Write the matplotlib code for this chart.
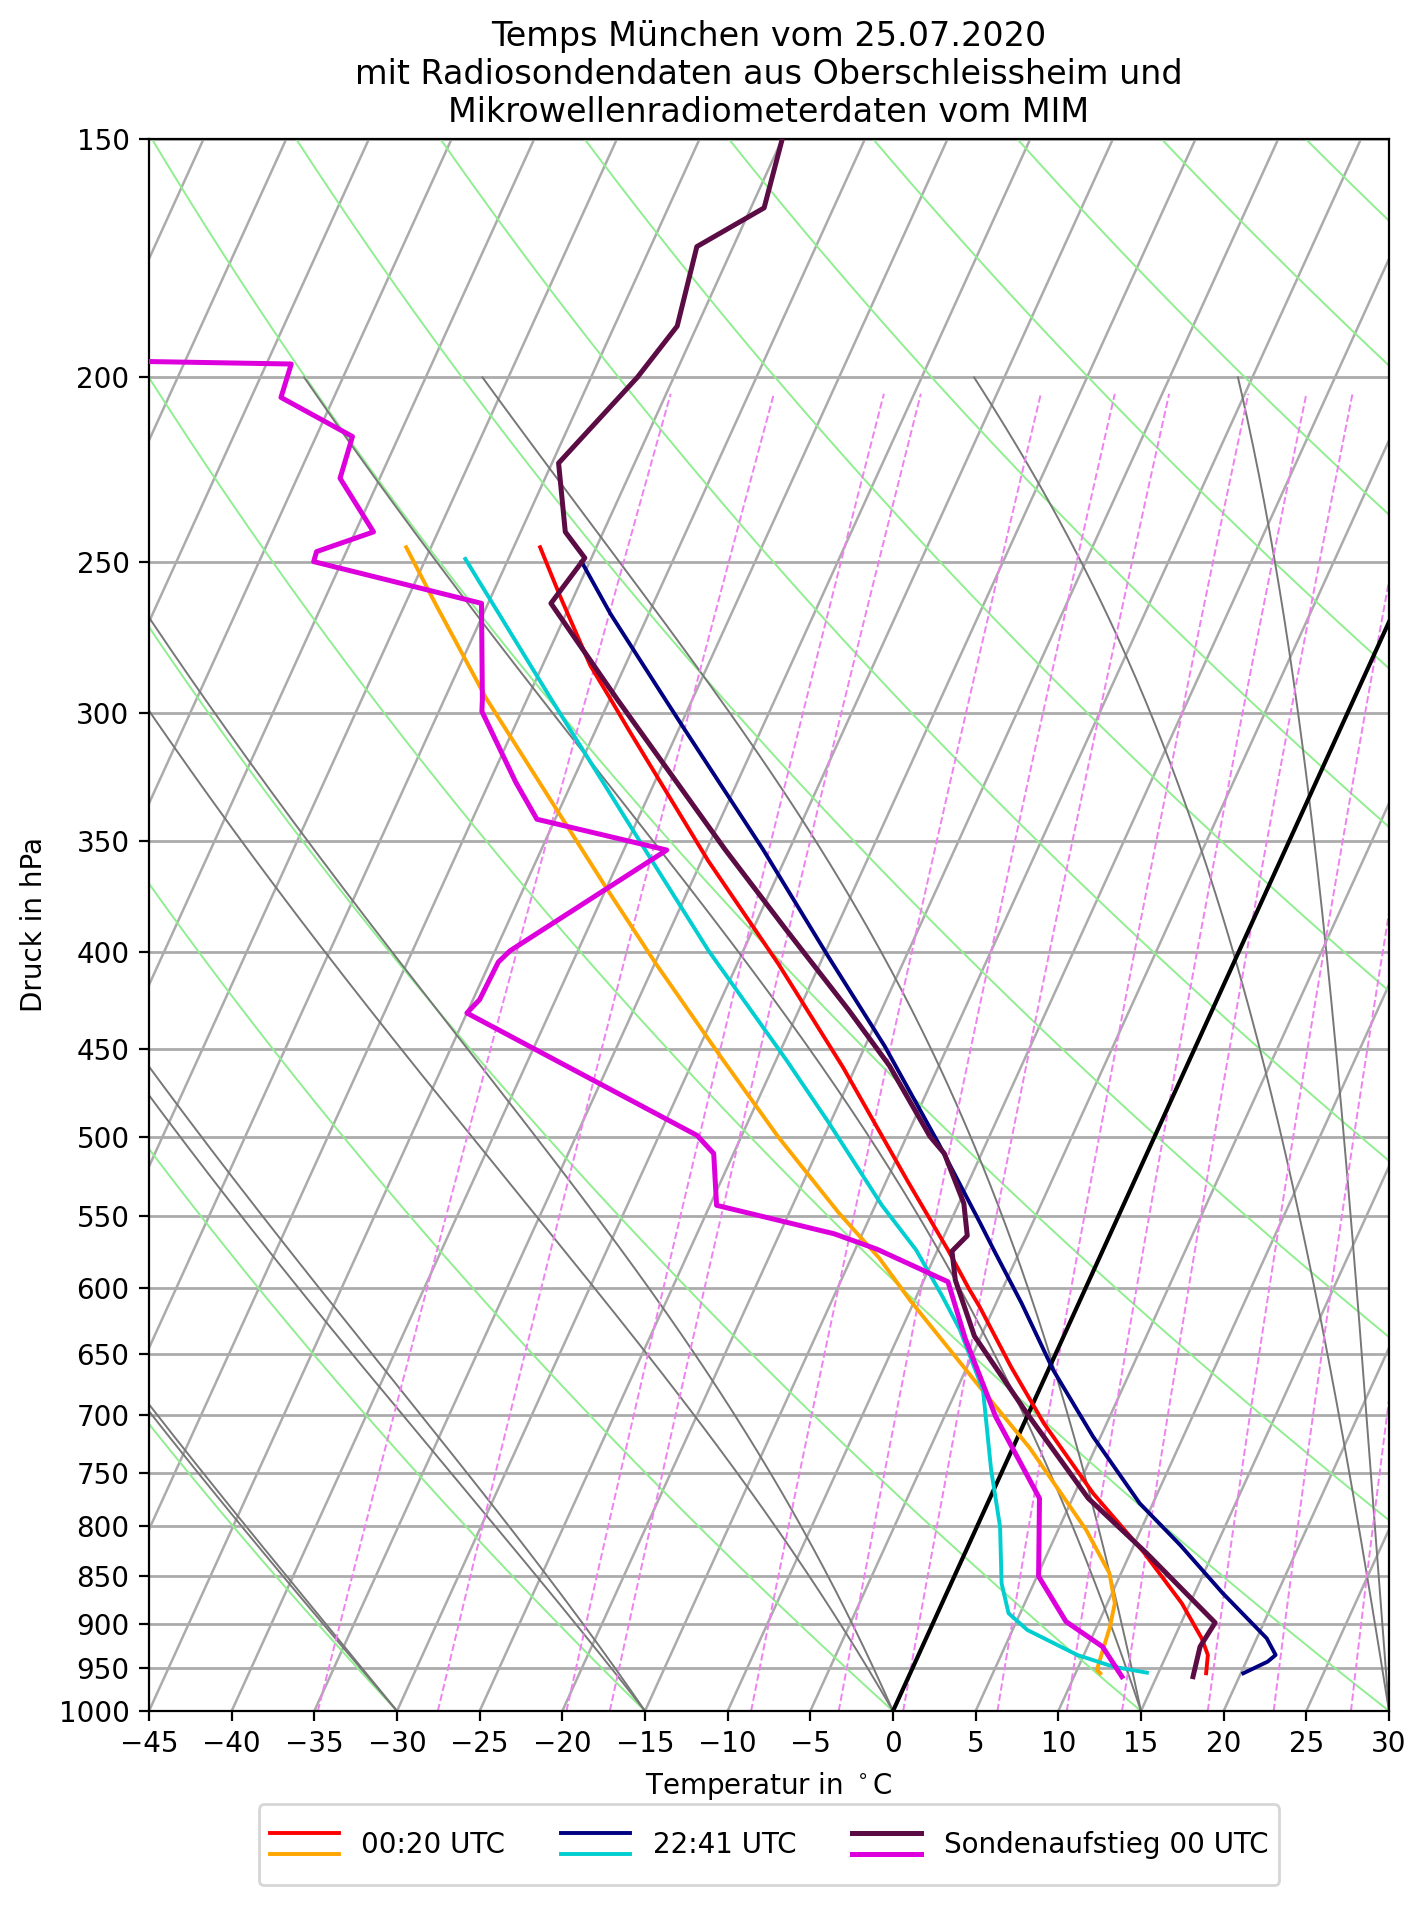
import numpy as np
import matplotlib
matplotlib.use('Agg')
import matplotlib.pyplot as plt
from matplotlib.transforms import Affine2D
from matplotlib.legend_handler import HandlerBase
from matplotlib.lines import Line2D

# Mikrowellenradiometer 00:20 UTC
p_t_0020 = [245.5, 260.7, 283.2, 295.2, 306.1, 358.4, 406.0, 459.9, 528.2, 573.0, 601.2, 613.9,
            660.0, 706.7, 768.9, 825.1, 878.1, 916.0, 934.6, 955.5]
t_0020 = [-53.4, -50.8, -47.1, -44.9, -43.0, -34.6, -27.5, -20.75, -13.65, -9.4, -7.0, -5.9,
          -2.35, 1.2, 6.1, 10.75, 14.5, 16.67, 17.5, 17.9]
p_td_0020 = [245.5, 262.7, 294.6, 370.1, 406.0, 453.6, 499.8, 548.2, 579.0, 609.0, 676.1, 728.3,
             803.8, 846.9, 878.1, 903.3, 927.1, 951.7, 955.5]
td_0020 = [-61.5, -58.2, -52.5, -40.05, -34.9, -28.5, -22.8, -17.0, -13.3, -10.3, -3.7, 1.05,
           6.7, 9.3, 10.45, 10.8, 11.0, 11.2, 11.5]

# Mikrowellenradiometer 22:41 UTC
p_t_2241 = [249.8, 266.1, 295.2, 305.0, 353.5, 402.3, 448.4, 504.4, 554.6, 573.3, 611.4, 662.7,
            718.2, 778.3, 818.5, 867.5, 916.0, 934.6, 942.2, 955.5]
t_2241 = [-50.5, -47.3, -41.6, -39.8, -31.6, -24.7, -18.8, -12.85, -8.2, -6.6, -3.45, 0.3,
          4.55, 9.2, 12.8, 16.7, 20.6, 21.6, 21.3, 20.15]
p_td_2241 = [249.0, 294.6, 355.1, 399.5, 455.7, 490.7, 543.2, 573.3, 606.7, 631.3, 678.8, 747.7,
             800.6, 857.2, 888.8, 906.9, 934.6, 947.9, 954.8]
td_2241 = [-57.6, -48.6, -38.5, -32.1, -24.4, -20.2, -14.6, -11.3, -8.4, -6.45, -3.4, -0.7,
           1.4, 3.05, 4.3, 5.9, 9.6, 12.1, 14.3]

# Radiosonde Oberschleissheim 00 UTC
p_sonde = [150.0, 163.0, 170.8, 188.0, 200.0, 221.8, 241.0, 248.7, 262.7, 295.2, 353.5, 389.4,
           429.1, 458.9, 499.8, 510.3, 541.9, 563.5, 574.1, 594.5, 636.1, 698.2, 773.6, 826.7,
           898.9, 925.3, 959.4]
t_sonde = [-50.0, -49.2, -52.2, -51.2, -52.2, -54.6, -52.3, -50.4, -51.2, -44.5, -33.9, -28.0,
           -22.0, -18.0, -13.6, -12.25, -9.7, -8.6, -9.1, -8.1, -5.4, -0.1, 5.95, 11.0,
           17.05, 16.8, 17.2]
p_td_sonde = [195.6, 196.8, 204.9, 214.8, 225.9, 241.0, 246.8, 249.8, 262.7, 295.0, 299.3, 326.0,
              340.9, 353.8, 399.5, 405.0, 423.8, 430.7, 499.3, 510.3, 543.2, 562.2, 572.7, 595.7,
              637.8, 701.0, 773.6, 850.1, 897.7, 925.3, 959.4]
td_sonde = [-91.3, -73.5, -73.2, -67.8, -67.4, -63.9, -66.8, -66.7, -55.4, -52.7, -52.4, -48.4,
            -46.1, -37.4, -44.1, -44.5, -44.6, -45.0, -27.7, -26.2, -24.6, -16.7, -13.7, -8.5,
            -5.9, -1.9, 3.0, 5.1, 8.0, 10.9, 12.9]

labels = ['00:20 UTC', '22:41 UTC', 'Sondenaufstieg 00 UTC']
p_ticks = list(range(150, 1001, 50))
t_ticks = list(range(-45, 31, 5))

# Hilfslinien
t0_dry = np.arange(-45, 301, 15)
t0_moist = np.arange(-45, 31, 15)
w_mix = np.array([0.2, 0.4, 0.8, 1, 2, 3, 4, 6, 8, 10, 14, 18, 24]) / 1000.

Rd = 287.04749
Cp = 1004.6662
Lv = 2.50084e6
eps = 0.6219569


def sat_vp(tc):
    return 6.112 * np.exp(17.67 * tc / (tc + 243.5))


def moist_rate(p, T, f):
    es = sat_vp(T - 273.15)
    rs = f * es / (p - es)
    return (Rd * T + Lv * rs) / (Cp + Lv * Lv * rs * eps / (Rd * T * T)) / p


def moist_adiabat(t0, p, f):
    T = np.empty_like(p)
    T[0] = t0 + 273.15
    for i in range(1, len(p)):
        h = p[i] - p[i - 1]
        x, y = p[i - 1], T[i - 1]
        k1 = moist_rate(x, y, f)
        k2 = moist_rate(x + h / 2, y + h / 2 * k1, f)
        k3 = moist_rate(x + h / 2, y + h / 2 * k2, f)
        k4 = moist_rate(x + h, y + h * k3, f)
        T[i] = y + h / 6 * (k1 + 2 * k2 + 2 * k3 + k4)
    return T - 273.15


def mixing_td(w, p):
    es = w * p / (eps + w)
    a = np.log(es / 6.112)
    return 243.5 * a / (17.67 - a)


fig = plt.figure(figsize=(1427 / 200, 1907 / 200), dpi=200)
ax = fig.add_axes([149 / 1427, 1 - 1711 / 1907, 1240 / 1427, 1572 / 1907])
ax.set_yscale('log')
ax.set_ylim(1000, 150)
ax.set_xlim(-45, 30)

# schiefe Achse wie im Skew-T (30 Grad)
skew = ax.transScale + ax.transLimits + Affine2D().skew_deg(30, 0) + ax.transAxes

for t in np.arange(-120, 31, 5):
    ax.plot([t, t], [1000, 150], transform=skew, color='#ababab', lw=0.9, zorder=0.8)

p_dry = np.linspace(1000, 150, 200)
for t0 in t0_dry:
    ax.plot((t0 + 273.15) * (p_dry / 1000.) ** 0.28571 - 273.15, p_dry, transform=skew,
            color='lightgreen', lw=0.7, zorder=1)

# zwei Saetze Feuchtadiabaten wie im Original
p_moist = np.linspace(1000, 200, 321)
for f in (eps, 0.952):
    for t0 in t0_moist:
        ax.plot(moist_adiabat(t0, p_moist, f), p_moist, transform=skew,
                color='#777777', lw=0.7, zorder=1)

p_mix = np.linspace(1000, 204, 100)
for w in w_mix:
    ax.plot(mixing_td(w, p_mix), p_mix, transform=skew, color='violet',
            lw=0.7, ls='--', zorder=1)

ax.plot([0, 0], [1000, 150], transform=skew, color='k', lw=1.5, zorder=1.5)

l1, = ax.plot(t_0020, p_t_0020, transform=skew, color='red', lw=1.4, zorder=3)
l2, = ax.plot(td_0020, p_td_0020, transform=skew, color='orange', lw=1.4, zorder=3)
l3, = ax.plot(t_2241, p_t_2241, transform=skew, color='navy', lw=1.4, zorder=3)
l4, = ax.plot(td_2241, p_td_2241, transform=skew, color='darkturquoise', lw=1.4, zorder=3)
l5, = ax.plot(t_sonde, p_sonde, transform=skew, color='#5c0c44', lw=1.8, zorder=3)
l6, = ax.plot(td_sonde, p_td_sonde, transform=skew, color='#dd00dd', lw=1.8, zorder=3)

ax.set_yticks(p_ticks)
ax.set_yticklabels([str(p) for p in p_ticks])
ax.yaxis.set_minor_locator(matplotlib.ticker.NullLocator())
ax.set_xticks(t_ticks)
ax.set_xticklabels(['\u2212' + str(-t) if t < 0 else str(t) for t in t_ticks])
ax.set_axisbelow(True)
ax.yaxis.grid(True, color='#ababab', lw=1.0)
ax.set_ylim(1000, 150)
ax.set_xlim(-45, 30)

ax.set_xlabel('Temperatur in $^\\circ$C')
ax.set_ylabel('Druck in hPa')
ax.set_title('Temps München vom 25.07.2020\nmit Radiosondendaten aus Oberschleissheim und\n'
             'Mikrowellenradiometerdaten vom MIM', fontsize=12)


class PairHandler(HandlerBase):
    def create_artists(self, legend, orig_handle, xdescent, ydescent, width, height, fontsize, trans):
        yc = (height - ydescent) / 2 - 0.33 * fontsize
        arts = []
        for h, dy in zip(orig_handle, (0.38 * fontsize, -0.38 * fontsize)):
            ln = Line2D([-xdescent, width - xdescent], [yc + dy, yc + dy],
                        color=h.get_color(), lw=h.get_linewidth())
            ln.set_transform(trans)
            arts.append(ln)
        return arts


ax.legend([(l1, l2), (l3, l4), (l5, l6)], labels, handler_map={tuple: PairHandler()},
          loc='upper center', bbox_to_anchor=(0.5, -0.0592), borderaxespad=0, ncol=3,
          handlelength=2.5, handleheight=2.9)

fig.savefig('out.png', dpi=200)
